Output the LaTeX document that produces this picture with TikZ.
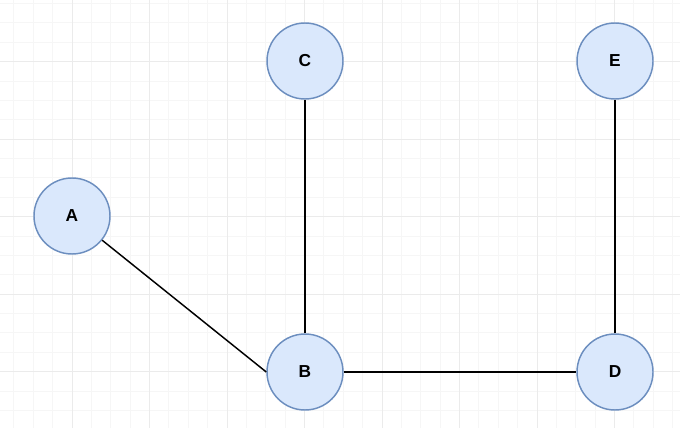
\documentclass[tikz,border=0pt]{standalone}
\usepackage{fontspec}
\setsansfont{Liberation Sans}
\definecolor{vtxfill}{HTML}{DAE8FC}
\definecolor{vtxline}{HTML}{6C8EBF}
\tikzset{
  vertex/.style={circle,draw=vtxline,fill=vtxfill,line width=1.1pt,minimum size=57pt,
    inner sep=0pt,font=\sffamily\bfseries\fontsize{13}{15}\selectfont},
  edge/.style={line width=1.1pt,black},
  minorline/.style={line width=0.75pt,gray!7},
  majorline/.style={line width=0.75pt,gray!16}
}
\begin{document}
\begin{tikzpicture}[x=0.75pt,y=-0.75pt]
  \useasboundingbox (0,0) rectangle (680,428);
  \fill[white] (0,0) rectangle (680,428);
  % grid
  \foreach \i in {0,...,34} \draw[minorline] (13.9+\i*19.375,0) -- (13.9+\i*19.375,428);
  \foreach \j in {0,...,22} \draw[minorline] (0,3.6+\j*19.375) -- (680,3.6+\j*19.375);
  \foreach \i in {0,...,8} \draw[majorline] (72+\i*77.5,0) -- (72+\i*77.5,428);
  \foreach \j in {0,...,5} \draw[majorline] (0,61.7+\j*77.5) -- (680,61.7+\j*77.5);
  % vertices
  \node[vertex] (A) at (72,216) {A};
  \node[vertex] (B) at (305,372) {B};
  \node[vertex] (C) at (305,61) {C};
  \node[vertex] (D) at (615,372) {D};
  \node[vertex] (E) at (615,61) {E};
  % edges
  \draw[edge] (A) -- (B.west);
  \draw[edge] (C) -- (B);
  \draw[edge] (B) -- (D);
  \draw[edge] (E) -- (D);
\end{tikzpicture}
\end{document}
